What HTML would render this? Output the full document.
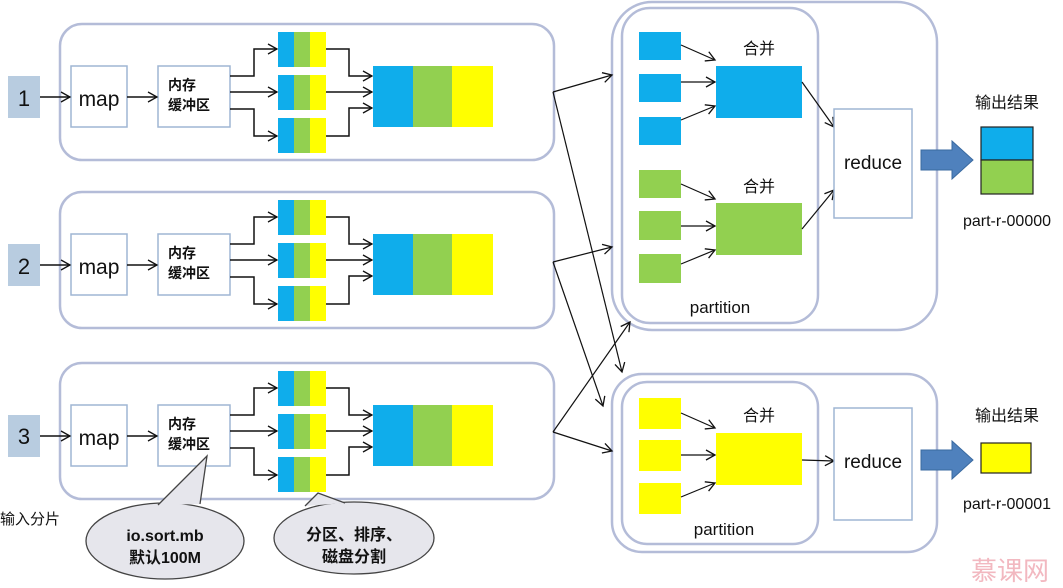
<!DOCTYPE html>
<html><head><meta charset="utf-8"><style>
html,body{margin:0;padding:0;background:#fff;}
svg{display:block;}
text{font-family:"Liberation Sans","Noto Sans CJK SC",sans-serif;fill:#111;}
</style></head><body>
<svg width="1063" height="588" viewBox="0 0 1063 588" xmlns="http://www.w3.org/2000/svg">
<defs>
<marker id="a" markerWidth="12" markerHeight="12" refX="10" refY="6" orient="auto" markerUnits="userSpaceOnUse">
<path d="M1,1 L10,6 L1,11" fill="none" stroke="#111" stroke-width="1.3"/></marker>
<g id="row">
  <rect x="60" y="24" width="494" height="136" rx="22" fill="#fff" stroke="#b4bcd8" stroke-width="2.5"/>
  <rect x="8" y="76" width="32" height="42" fill="#b8cce0"/>
  <rect x="71" y="66" width="56" height="61" fill="#fff" stroke="#9fb6d4" stroke-width="1.5"/>
  <text x="99" y="106" font-size="21" text-anchor="middle">map</text>
  <rect x="158" y="66" width="72" height="61" fill="#fff" stroke="#9fb6d4" stroke-width="1.5"/>
  <text x="168" y="90" font-size="14" font-weight="bold">内存</text>
  <text x="168" y="110" font-size="14" font-weight="bold">缓冲区</text>
  <line x1="40" y1="97" x2="70" y2="97" stroke="#111" stroke-width="1.5" marker-end="url(#a)"/>
  <line x1="127" y1="97" x2="157" y2="97" stroke="#111" stroke-width="1.5" marker-end="url(#a)"/>
  <g>
    <rect x="278" y="32" width="16" height="35" fill="#0fadeb"/><rect x="294" y="32" width="16" height="35" fill="#92d050"/><rect x="310" y="32" width="16" height="35" fill="#ffff00"/>
    <rect x="278" y="75" width="16" height="35" fill="#0fadeb"/><rect x="294" y="75" width="16" height="35" fill="#92d050"/><rect x="310" y="75" width="16" height="35" fill="#ffff00"/>
    <rect x="278" y="118" width="16" height="35" fill="#0fadeb"/><rect x="294" y="118" width="16" height="35" fill="#92d050"/><rect x="310" y="118" width="16" height="35" fill="#ffff00"/>
  </g>
  <polyline points="230,76 254,76 254,49 277,49" fill="none" stroke="#111" stroke-width="1.5" marker-end="url(#a)"/>
  <line x1="230" y1="92" x2="277" y2="92" stroke="#111" stroke-width="1.5" marker-end="url(#a)"/>
  <polyline points="230,109 254,109 254,136 277,136" fill="none" stroke="#111" stroke-width="1.5" marker-end="url(#a)"/>
  <polyline points="326,49 349,49 349,76 372,76" fill="none" stroke="#111" stroke-width="1.5" marker-end="url(#a)"/>
  <line x1="326" y1="92" x2="372" y2="92" stroke="#111" stroke-width="1.5" marker-end="url(#a)"/>
  <polyline points="326,136 349,136 349,108 372,108" fill="none" stroke="#111" stroke-width="1.5" marker-end="url(#a)"/>
  <rect x="373" y="66" width="40" height="61" fill="#0fadeb"/><rect x="413" y="66" width="39" height="61" fill="#92d050"/><rect x="452" y="66" width="41" height="61" fill="#ffff00"/>
</g>
</defs>
<use href="#row"/>
<use href="#row" transform="translate(0,168)"/>
<use href="#row" transform="translate(0,339)"/>
<text x="24" y="106" font-size="22" text-anchor="middle" fill="#333">1</text>
<text x="24" y="274" font-size="22" text-anchor="middle" fill="#333">2</text>
<text x="24" y="444" font-size="22" text-anchor="middle" fill="#333">3</text>
<text x="0" y="524" font-size="15">输入分片</text>

<!-- callouts -->
<ellipse cx="165" cy="541" rx="79" ry="38" fill="#e6e6ec" stroke="#444" stroke-width="1.3"/>
<path d="M158,505 L207,456 L200,504 Z" fill="#e6e6ec" stroke="none"/>
<polyline points="158,505 207,456 200,504" fill="none" stroke="#444" stroke-width="1.3"/>
<ellipse cx="354" cy="538" rx="80" ry="36" fill="#e6e6ec" stroke="#444" stroke-width="1.3"/>
<path d="M305,506 L318,493 L345,503 Z" fill="#e6e6ec" stroke="none"/>
<polyline points="305,506 318,493 345,503" fill="none" stroke="#444" stroke-width="1.3"/>
<text x="165" y="541" font-size="16" font-weight="bold" text-anchor="middle">io.sort.mb</text>
<text x="165" y="563" font-size="16" font-weight="bold" text-anchor="middle">默认100M</text>
<text x="354" y="540" font-size="16" font-weight="bold" text-anchor="middle">分区、排序、</text>
<text x="354" y="562" font-size="16" font-weight="bold" text-anchor="middle">磁盘分割</text>

<!-- reduce side top -->
<rect x="612" y="2" width="325" height="328" rx="40" fill="#fff" stroke="#b4bcd8" stroke-width="2.5"/>
<rect x="622" y="8" width="196" height="315" rx="28" fill="#fff" stroke="#b4bcd8" stroke-width="2.5"/>
<rect x="639" y="32" width="42" height="28" fill="#0fadeb"/><rect x="639" y="74" width="42" height="28" fill="#0fadeb"/><rect x="639" y="117" width="42" height="28" fill="#0fadeb"/>
<rect x="716" y="66" width="86" height="52" fill="#0fadeb"/>
<text x="759" y="54" font-size="16" text-anchor="middle">合并</text>
<rect x="639" y="170" width="42" height="28" fill="#92d050"/><rect x="639" y="211" width="42" height="29" fill="#92d050"/><rect x="639" y="254" width="42" height="29" fill="#92d050"/>
<rect x="716" y="203" width="86" height="52" fill="#92d050"/>
<text x="759" y="192" font-size="16" text-anchor="middle">合并</text>
<text x="720" y="313" font-size="17" text-anchor="middle">partition</text>
<g stroke="#111" stroke-width="1.2" fill="none">
<line x1="681" y1="45" x2="715" y2="60" marker-end="url(#a)"/>
<line x1="681" y1="82" x2="715" y2="82" marker-end="url(#a)"/>
<line x1="681" y1="120" x2="715" y2="106" marker-end="url(#a)"/>
<line x1="681" y1="184" x2="715" y2="199" marker-end="url(#a)"/>
<line x1="681" y1="226" x2="715" y2="226" marker-end="url(#a)"/>
<line x1="681" y1="264" x2="715" y2="250" marker-end="url(#a)"/>
<line x1="802" y1="82" x2="834" y2="127" marker-end="url(#a)"/>
<line x1="802" y1="229" x2="834" y2="190" marker-end="url(#a)"/>
</g>
<rect x="834" y="109" width="78" height="109" fill="#fff" stroke="#9fb6d4" stroke-width="1.5"/>
<text x="873" y="169" font-size="19" text-anchor="middle">reduce</text>
<path d="M921,150 L952,150 L952,141 L973,160 L952,179 L952,170 L921,170 Z" fill="#4f81bd" stroke="#3a6aa0"/>
<rect x="981" y="127" width="52" height="33" fill="#0fadeb" stroke="#222" stroke-width="1.2"/>
<rect x="981" y="160" width="52" height="34" fill="#92d050" stroke="#222" stroke-width="1.2"/>
<text x="1007" y="108" font-size="16" text-anchor="middle">输出结果</text>
<text x="1007" y="226" font-size="16" text-anchor="middle">part-r-00000</text>

<!-- reduce side bottom -->
<rect x="612" y="374" width="325" height="178" rx="30" fill="#fff" stroke="#b4bcd8" stroke-width="2.5"/>
<rect x="622" y="382" width="196" height="162" rx="25" fill="#fff" stroke="#b4bcd8" stroke-width="2.5"/>
<rect x="639" y="398" width="42" height="31" fill="#ffff00"/><rect x="639" y="440" width="42" height="31" fill="#ffff00"/><rect x="639" y="483" width="42" height="31" fill="#ffff00"/>
<rect x="716" y="433" width="86" height="52" fill="#ffff00"/>
<text x="759" y="421" font-size="16" text-anchor="middle">合并</text>
<text x="724" y="535" font-size="17" text-anchor="middle">partition</text>
<g stroke="#111" stroke-width="1.2" fill="none">
<line x1="681" y1="413" x2="715" y2="428" marker-end="url(#a)"/>
<line x1="681" y1="455" x2="715" y2="455" marker-end="url(#a)"/>
<line x1="681" y1="497" x2="715" y2="483" marker-end="url(#a)"/>
<line x1="802" y1="460" x2="834" y2="461" marker-end="url(#a)"/>
</g>
<rect x="834" y="408" width="78" height="112" fill="#fff" stroke="#9fb6d4" stroke-width="1.5"/>
<text x="873" y="468" font-size="19" text-anchor="middle">reduce</text>
<path d="M921,450 L952,450 L952,441 L973,460 L952,479 L952,470 L921,470 Z" fill="#4f81bd" stroke="#3a6aa0"/>
<rect x="981" y="443" width="50" height="30" fill="#ffff00" stroke="#222" stroke-width="1.2"/>
<text x="1007" y="421" font-size="16" text-anchor="middle">输出结果</text>
<text x="1007" y="509" font-size="16" text-anchor="middle">part-r-00001</text>

<!-- shuffle arrows -->
<g stroke="#111" stroke-width="1.2" fill="none">
<line x1="553" y1="92" x2="612" y2="75" marker-end="url(#a)"/>
<line x1="553" y1="92" x2="622" y2="372" marker-end="url(#a)"/>
<line x1="553" y1="262" x2="612" y2="247" marker-end="url(#a)"/>
<line x1="553" y1="262" x2="603" y2="406" marker-end="url(#a)"/>
<line x1="553" y1="432" x2="630" y2="322" marker-end="url(#a)"/>
<line x1="553" y1="432" x2="612" y2="451" marker-end="url(#a)"/>
</g>
<text x="1010" y="580" font-size="26" text-anchor="middle" style="fill:#f2b8c0">慕课网</text>
</svg>
</body></html>
